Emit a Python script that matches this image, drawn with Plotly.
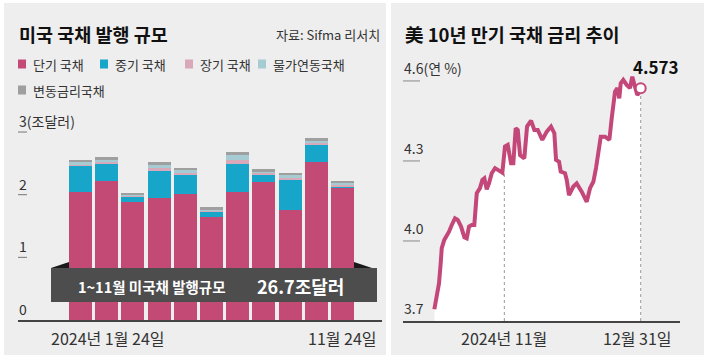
import plotly.graph_objects as go

W, H = 708, 359
FONT = "Noto Sans CJK KR"

# ---------------- Left chart data: US Treasury issuance (trillion $) ----------------
months = ["2024년 1월", "2024년 2월", "2024년 3월", "2024년 4월", "2024년 5월", "2024년 6월",
          "2024년 7월", "2024년 8월", "2024년 9월", "2024년 10월", "2024년 11월"]
short_term = [2.04, 2.22, 1.89, 1.94, 2.01, 1.64, 2.05, 2.21, 1.76, 2.52, 2.12]
mid_term   = [0.41, 0.27, 0.09, 0.44, 0.31, 0.09, 0.44, 0.12, 0.47, 0.29, 0.02]
long_term  = [0.04, 0.04, 0.01, 0.05, 0.04, 0.02, 0.07, 0.02, 0.05, 0.03, 0.01]
tips       = [0.03, 0.03, 0.01, 0.04, 0.03, 0.02, 0.07, 0.02, 0.03, 0.02, 0.04]
frn        = [0.04, 0.04, 0.03, 0.05, 0.04, 0.03, 0.05, 0.04, 0.04, 0.04, 0.02]
series_names = ["단기 국채", "중기 국채", "장기 국채", "물가연동국채", "변동금리국채"]
series_colors = ["#c44a76", "#17a5c9", "#d8a9b8", "#a7cbd2", "#9f9f9f"]
left_ticks = [0, 1, 2, 3]
left_ticktext = ["0", "1", "2", "3(조달러)"]
left_xlabels = ["2024년 1월 24일", "11월 24일"]
box_text = "1~11월 미국채 발행규모"
box_total = "26.7조달러"

# ---------------- Right chart data: US 10Y Treasury yield (%) ----------------
dates = ["2024-10-01 05:00", "2024-10-02 06:00", "2024-10-03 06:00", "2024-10-04 00:00",
         "2024-10-04 11:00", "2024-10-05 14:00", "2024-10-06 16:00", "2024-10-07 16:00",
         "2024-10-08 21:00", "2024-10-10 07:00", "2024-10-11 12:00", "2024-10-12 23:00",
         "2024-10-14 10:00", "2024-10-15 11:00", "2024-10-16 11:00", "2024-10-17 16:00",
         "2024-10-18 19:00", "2024-10-19 03:00", "2024-10-19 21:00", "2024-10-21 07:00",
         "2024-10-22 08:00", "2024-10-23 05:00", "2024-10-24 06:00", "2024-10-25 06:00",
         "2024-10-26 11:00", "2024-10-27 22:00", "2024-10-29 09:00", "2024-10-30 21:00",
         "2024-10-31 03:00", "2024-11-01 07:00", "2024-11-02 12:00", "2024-11-03 23:00",
         "2024-11-04 23:00", "2024-11-06 00:00", "2024-11-06 22:00", "2024-11-07 22:00",
         "2024-11-09 19:00", "2024-11-11 00:00", "2024-11-12 18:00", "2024-11-14 05:00",
         "2024-11-15 17:00", "2024-11-17 17:00", "2024-11-19 16:00", "2024-11-21 13:00",
         "2024-11-23 00:00", "2024-11-23 18:00", "2024-11-25 02:00", "2024-11-25 19:00",
         "2024-11-27 17:00", "2024-11-28 11:00", "2024-11-29 11:00", "2024-12-01 09:00",
         "2024-12-02 20:00", "2024-12-05 01:00", "2024-12-07 06:00", "2024-12-08 17:00",
         "2024-12-10 04:00", "2024-12-11 08:00", "2024-12-12 09:00", "2024-12-13 10:00",
         "2024-12-15 07:00", "2024-12-17 05:00", "2024-12-18 06:00", "2024-12-18 23:00",
         "2024-12-19 17:00", "2024-12-20 17:00", "2024-12-21 14:00", "2024-12-22 05:00",
         "2024-12-23 08:00", "2024-12-24 20:00", "2024-12-26 07:00", "2024-12-27 07:00",
         "2024-12-28 12:00", "2024-12-29 12:00", "2024-12-30 12:00", "2024-12-31 00:00"]
yields = [3.744, 3.791, 3.841, 3.916, 3.973, 4.004, 4.019, 4.035,
          4.060, 4.085, 4.079, 4.054, 4.014, 4.010, 4.054, 4.060,
          4.060, 4.116, 4.179, 4.198, 4.229, 4.235, 4.194, 4.216,
          4.254, 4.273, 4.266, 4.260, 4.256, 4.354, 4.360, 4.291,
          4.291, 4.423, 4.416, 4.322, 4.310, 4.429, 4.451, 4.416,
          4.416, 4.379, 4.410, 4.429, 4.404, 4.304, 4.297, 4.260,
          4.254, 4.229, 4.172, 4.204, 4.216, 4.185, 4.147, 4.198,
          4.222, 4.273, 4.322, 4.391, 4.391, 4.379, 4.460, 4.504,
          4.560, 4.573, 4.535, 4.591, 4.604, 4.585, 4.573, 4.616,
          4.573, 4.547, 4.560, 4.573]
right_ticks = [3.7, 4.0, 4.3, 4.6]
right_ticktext = ["3.7", "4.0", "4.3", "4.6(연 %)"]
marker_dates = ["2024-11-01", "2024-12-31"]
right_xlabels = ["2024년 11월", "12월 31일"]

LINE_COLOR = "#c4477a"
BG = "#eeeeee"


def px(x):
    return x / W


def py(y):
    return 1 - y / H


fig = go.Figure()

# stacked bars
for vals, name, col in zip([short_term, mid_term, long_term, tips, frn], series_names, series_colors):
    fig.add_trace(go.Bar(x=months, y=vals, name=name,
                         marker=dict(color=col, line=dict(width=0)),
                         xaxis="x", yaxis="y", showlegend=False))

# right chart: white area under line
fig.add_trace(go.Scatter(x=dates, y=yields, mode="lines", line=dict(width=0, color="white"),
                         fill="tozeroy", fillcolor="white", xaxis="x2", yaxis="y2", showlegend=False,
                         hoverinfo="skip"))
# dotted reference lines
nov_val = [v for d, v in zip(dates, yields) if d < marker_dates[0]][-1]
for d, top in zip(marker_dates, [nov_val, yields[-1]]):
    fig.add_trace(go.Scatter(x=[d, d], y=[right_ticks[0], top], mode="lines",
                             line=dict(color="#9a9a9a", width=1, dash="dot"),
                             xaxis="x2", yaxis="y2", showlegend=False, hoverinfo="skip"))
fig.add_trace(go.Scatter(x=dates, y=yields, mode="lines", line=dict(width=4, color=LINE_COLOR),
                         xaxis="x2", yaxis="y2", showlegend=False))
fig.add_trace(go.Scatter(x=[dates[-1]], y=[yields[-1]], mode="markers",
                         marker=dict(size=10, color="white", line=dict(color=LINE_COLOR, width=2)),
                         xaxis="x2", yaxis="y2", showlegend=False))

shapes = []
# panels
shapes.append(dict(type="rect", xref="paper", yref="paper", x0=px(4), x1=px(386), y0=py(355), y1=py(3),
                   fillcolor=BG, line=dict(width=0), layer="below"))
shapes.append(dict(type="rect", xref="paper", yref="paper", x0=px(391), x1=px(704), y0=py(355), y1=py(3),
                   fillcolor=BG, line=dict(width=0), layer="below"))
# tick dashes
for v in left_ticks[1:]:
    shapes.append(dict(type="line", xref="paper", yref="y", x0=px(18), x1=px(27), y0=v, y1=v,
                       line=dict(color="#777", width=1)))
for v in right_ticks[1:]:
    shapes.append(dict(type="line", xref="paper", yref="y2", x0=px(403), x1=px(420), y0=v, y1=v,
                       line=dict(color="#888", width=1)))
# annotation ribbon box
shapes.append(dict(type="rect", xref="paper", yref="paper", x0=px(51), x1=px(377), y0=py(302), y1=py(268),
                   fillcolor="#4d4d4d", line=dict(width=0), layer="above"))
shapes.append(dict(type="path", xref="paper", yref="paper",
                   path=f"M {px(51)},{py(268)} L {px(69)},{py(262)} L {px(69)},{py(268)} Z",
                   fillcolor="#1a1a1a", line=dict(width=0), layer="above"))
shapes.append(dict(type="path", xref="paper", yref="paper",
                   path=f"M {px(354)},{py(262)} L {px(372)},{py(268)} L {px(354)},{py(268)} Z",
                   fillcolor="#1a1a1a", line=dict(width=0), layer="above"))
# legend squares
leg_pos = [(18, 64), (100, 64), (185, 64), (258, 64), (18, 90)]
for (lx, ly), col in zip(leg_pos, series_colors):
    shapes.append(dict(type="rect", xref="paper", yref="paper", x0=px(lx), x1=px(lx + 8),
                       y0=py(ly + 4.5), y1=py(ly - 4.5), fillcolor=col, line=dict(width=0)))

ann = []


def txt(x, y, s, size, color="#333", xanchor="left", bold=False, xref="paper", yref="paper", **kw):
    ann.append(dict(x=x, y=y, xref=xref, yref=yref, text=f"<b>{s}</b>" if bold else s, showarrow=False,
                    xanchor=xanchor, yanchor="middle",
                    font=dict(family=FONT, size=size, color=color), **kw))


# titles
txt(px(17), py(34), "미국 국채 발행 규모", 18.5, "#111", bold=True)
txt(px(382), py(34), "자료: Sifma 리서치", 13, "#333", xanchor="right")
txt(px(403), py(34), "美 10년 만기 국채 금리 추이", 18.5, "#111", bold=True)
# legend text
for (lx, ly), name in zip(leg_pos, series_names):
    txt(px(lx + 13), py(ly + 1), name, 13, "#333")
# left y tick labels
for v, t in zip(left_ticks, left_ticktext):
    txt(px(17), v, t, 14, "#333", yref="y", yshift=11)
# right y tick labels
for v, t in zip(right_ticks, right_ticktext):
    txt(px(402), v, t, 14, "#333", yref="y2", yshift=13)
# left x labels
txt(0, py(338), left_xlabels[0], 16, "#333", xanchor="center", xref="x", xshift=28)
txt(len(months) - 1, py(338), left_xlabels[1], 16, "#333", xanchor="center", xref="x")
# right x labels
txt(marker_dates[0], py(338), right_xlabels[0], 16, "#333", xanchor="center", xref="x2")
txt(marker_dates[1], py(338), right_xlabels[1], 16, "#333", xanchor="center", xref="x2", xshift=-3)
# box texts
txt(px(152), py(286), box_text, 14.5, "white", xanchor="center", bold=True)
txt(px(300), py(286), box_total, 18, "white", xanchor="center", bold=True)
# last value label
txt(dates[-1], yields[-1], f"{yields[-1]:.3f}", 17, "#111", xanchor="center", bold=True,
    xref="x2", yref="y2", xshift=15, yshift=22)

fig.update_layout(
    width=W, height=H, margin=dict(l=0, r=0, t=0, b=0),
    paper_bgcolor="white", plot_bgcolor="rgba(0,0,0,0)",
    barmode="stack", bargap=0.12,
    shapes=shapes, annotations=ann, showlegend=False,
    xaxis=dict(domain=[px(18), px(382)], type="category", range=[-2.385, 11.51], showline=True,
               linecolor="#444", linewidth=1.5, showticklabels=False, ticks="", showgrid=False,
               zeroline=False),
    yaxis=dict(domain=[py(320), py(128.9)], range=[0, 3.05], showticklabels=False, showgrid=False,
               zeroline=False, ticks=""),
    xaxis2=dict(domain=[px(403), px(680)], type="date", range=["2024-09-17 10:00", "2025-01-17 07:00"],
                anchor="y2", showline=True, linecolor="#444", linewidth=1.5, showticklabels=False,
                ticks="", showgrid=False, zeroline=False),
    yaxis2=dict(domain=[py(321), py(59.6)], range=[3.7, 4.68], anchor="x2", showticklabels=False,
                showgrid=False, zeroline=False, ticks=""),
)

fig.write_html("out.html", config={"displayModeBar": False},
               post_script="document.body.style.margin='0';document.body.style.padding='0';")
